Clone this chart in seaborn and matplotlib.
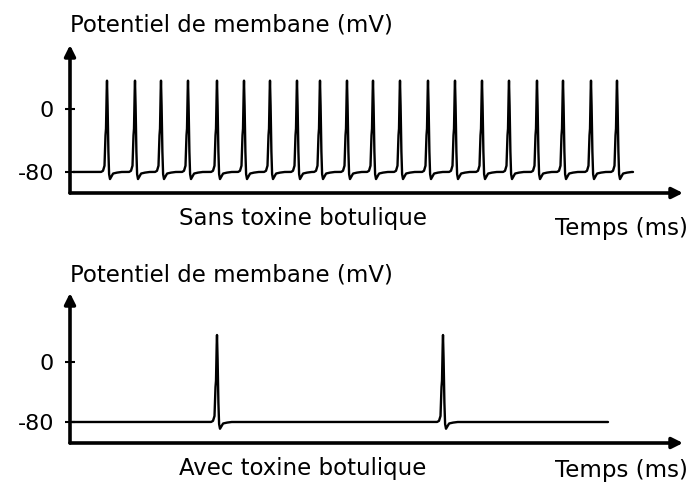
import numpy as np
import pandas as pd
import matplotlib
matplotlib.use("Agg")
import matplotlib.pyplot as plt
import seaborn as sns

# ---- data (time in ms, potential in mV) ----
spikes_sans = [37, 65, 91, 118, 147, 174, 200, 227, 250, 277, 303, 330,
               358, 385, 412, 439, 467, 493, 521, 547]
spikes_avec = [147, 373]
trace_sans_range = [3, 563]
trace_avec_range = [2, 538]
rest_mV = -80
yticks = [0, -80]
ytick_labels = ["0", "-80"]
# shape of one action potential: offset from peak (ms) and potential (mV)
ap_offsets = [-6, -4, -2.5, -1.6, -1.0, -0.5, 0, 0.5, 1.2, 2.0, 3.0, 4.3, 6, 9, 14]
ap_values = [-80, -78.5, -72, -35, -25, 15, 36, 12, -45, -82, -89, -86, -82, -81, -80]
ylabel = "Potentiel de membane (mV)"
xlabel = "Temps (ms)"
titles = ["Sans toxine botulique", "Avec toxine botulique"]


def build_trace(spikes, trange):
    t = np.arange(trange[0], trange[1] + 0.05, 0.1)
    v = np.full_like(t, float(rest_mV))
    for s in spikes:
        seg = np.interp(t - s, ap_offsets, ap_values, left=rest_mV, right=rest_mV)
        mask = (t - s >= ap_offsets[0]) & (t - s <= ap_offsets[-1])
        v[mask] = seg[mask]
    return pd.DataFrame({"t": t, "v": v})


sns.set_style("white")
plt.rcParams["font.family"] = ["DejaVu Sans"]
plt.rcParams["text.color"] = "black"
plt.rcParams["ytick.color"] = "black"
plt.rcParams["ytick.labelcolor"] = "black"

W, H = 692, 487
fig = plt.figure(figsize=(W / 100, H / 100), dpi=100)


def fx(px):
    return px / W


def fy(py):
    return 1 - py / H


panels = [
    dict(spikes=spikes_sans, rng=trace_sans_range, xaxis=193, top=45,
         ylim=(-106.7, 81.3), ylab_y=25, title_y=218, temps_y=228),
    dict(spikes=spikes_avec, rng=trace_avec_range, xaxis=443, top=293,
         ylim=(-108, 92), ylab_y=275, title_y=469, temps_y=470),
]

for i, p in enumerate(panels):
    ax = fig.add_axes([fx(70), fy(p["xaxis"]), fx(683) - fx(70),
                       fy(p["top"]) - fy(p["xaxis"])])
    df = build_trace(p["spikes"], p["rng"])
    sns.lineplot(data=df, x="t", y="v", ax=ax, color="black", lw=1.7,
                 estimator=None, sort=False)
    ax.set_xlim(0, 613)
    ax.set_ylim(*p["ylim"])
    for s in ax.spines.values():
        s.set_visible(False)
    ax.set_xticks([])
    ax.set_yticks(yticks)
    ax.set_yticklabels(ytick_labels, fontsize=16, color="black")
    ax.tick_params(axis="y", direction="inout", length=7, width=1.5,
                   pad=8, left=True, colors="black")
    ax.set_xlabel("")
    ax.set_ylabel("")
    ax.patch.set_alpha(0)
    # axes arrows
    ax.annotate("", xy=(0, 1), xytext=(0, 0), xycoords="axes fraction",
                arrowprops=dict(arrowstyle="-|>", lw=2.6, color="black",
                                mutation_scale=16, shrinkA=0, shrinkB=0))
    ax.annotate("", xy=(1, 0), xytext=(0, 0), xycoords="axes fraction",
                arrowprops=dict(arrowstyle="-|>", lw=2.6, color="black",
                                mutation_scale=16, shrinkA=0, shrinkB=0))
    fig.text(fx(70), fy(p["ylab_y"]), ylabel, fontsize=16.5, ha="left",
             va="center", color="black")
    fig.text(fx(303), fy(p["title_y"]), titles[i], fontsize=16.5, ha="center",
             va="center", color="black")
    fig.text(fx(688), fy(p["temps_y"]), xlabel, fontsize=16.5, ha="right",
             va="center", color="black")

fig.savefig("out.png", dpi=100, facecolor="white")
